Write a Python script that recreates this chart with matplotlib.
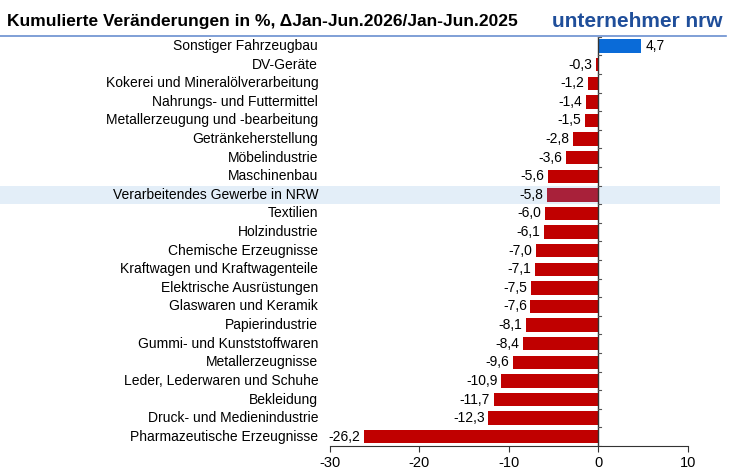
import matplotlib.pyplot as plt
from matplotlib.patches import Rectangle
from matplotlib.transforms import blended_transform_factory

categories = [
    "Sonstiger Fahrzeugbau", "DV-Geräte", "Kokerei und Mineralölverarbeitung",
    "Nahrungs- und Futtermittel", "Metallerzeugung und -bearbeitung",
    "Getränkeherstellung", "Möbelindustrie", "Maschinenbau",
    "Verarbeitendes Gewerbe in NRW", "Textilien", "Holzindustrie",
    "Chemische Erzeugnisse", "Kraftwagen und Kraftwagenteile",
    "Elektrische Ausrüstungen", "Glaswaren und Keramik", "Papierindustrie",
    "Gummi- und Kunststoffwaren", "Metallerzeugnisse",
    "Leder, Lederwaren und Schuhe", "Bekleidung", "Druck- und Medienindustrie",
    "Pharmazeutische Erzeugnisse",
]
values = [4.7, -0.3, -1.2, -1.4, -1.5, -2.8, -3.6, -5.6, -5.8, -6.0, -6.1,
          -7.0, -7.1, -7.5, -7.6, -8.1, -8.4, -9.6, -10.9, -11.7, -12.3, -26.2]
highlight = "Verarbeitendes Gewerbe in NRW"

plt.rcParams['font.family'] = ['Liberation Sans', 'DejaVu Sans']
plt.rcParams['axes.unicode_minus'] = False
fig = plt.figure(figsize=(7.33, 4.74), dpi=100)
ax = fig.add_axes([0.450, 0.059, 0.4886, 0.8636])

n = len(categories)
ypos = list(range(n))
colors = []
for c, v in zip(categories, values):
    if c == highlight:
        colors.append("#A8213A")
    elif v > 0:
        colors.append("#0A6BD8")
    else:
        colors.append("#C00000")
ax.barh(ypos, values, height=0.72, color=colors, zorder=3)
ax.set_ylim(n - 0.5, -0.5)
ax.set_xlim(-30, 10)
ax.set_xticks([-30, -20, -10, 0, 10])
ax.tick_params(axis='x', labelsize=10.5, length=4, color="#333333")

ax.set_yticks([])
band_tr = blended_transform_factory(fig.transFigure, ax.transData)
for y, (c, v) in enumerate(zip(categories, values)):
    ax.text(-31.3, y, c, ha='right', va='center', fontsize=10, zorder=5)
    lab = f"{v:.1f}".replace(".", ",")
    if v > 0:
        ax.text(v + 0.6, y, lab, ha='left', va='center', fontsize=10, zorder=5)
    else:
        ax.text(v - 0.4, y, lab, ha='right', va='center', fontsize=10, zorder=5)
    if c == highlight:
        ax.add_patch(Rectangle((0.0, y - 0.5), 0.982, 1.0, transform=band_tr,
                               facecolor="#E3EEF8", edgecolor="none",
                               clip_on=False, zorder=0))

for s in ["top", "right", "left"]:
    ax.spines[s].set_visible(False)
ax.spines["bottom"].set_color("#333333")
ax.axvline(0, color="#333333", lw=1, zorder=4)
for y in range(n + 1):
    ax.plot([0, 0.3], [y - 0.5, y - 0.5], color="#555555", lw=0.8, zorder=4)
ax.patch.set_alpha(0)

fig.text(0.01, 0.955, "Kumulierte Veränderungen in %, ΔJan-Jun.2026/Jan-Jun.2025",
         fontsize=12.5, fontweight='bold', va='center')
fig.text(0.985, 0.955, "unternehmer nrw", fontsize=15, fontweight='bold',
         color="#1F4E9A", ha='right', va='center')
fig.lines.append(plt.Line2D([0.0, 0.99], [0.925, 0.925], transform=fig.transFigure,
                            color="#6A8FD0", lw=1.2))

fig.savefig("out.png", dpi=100)
